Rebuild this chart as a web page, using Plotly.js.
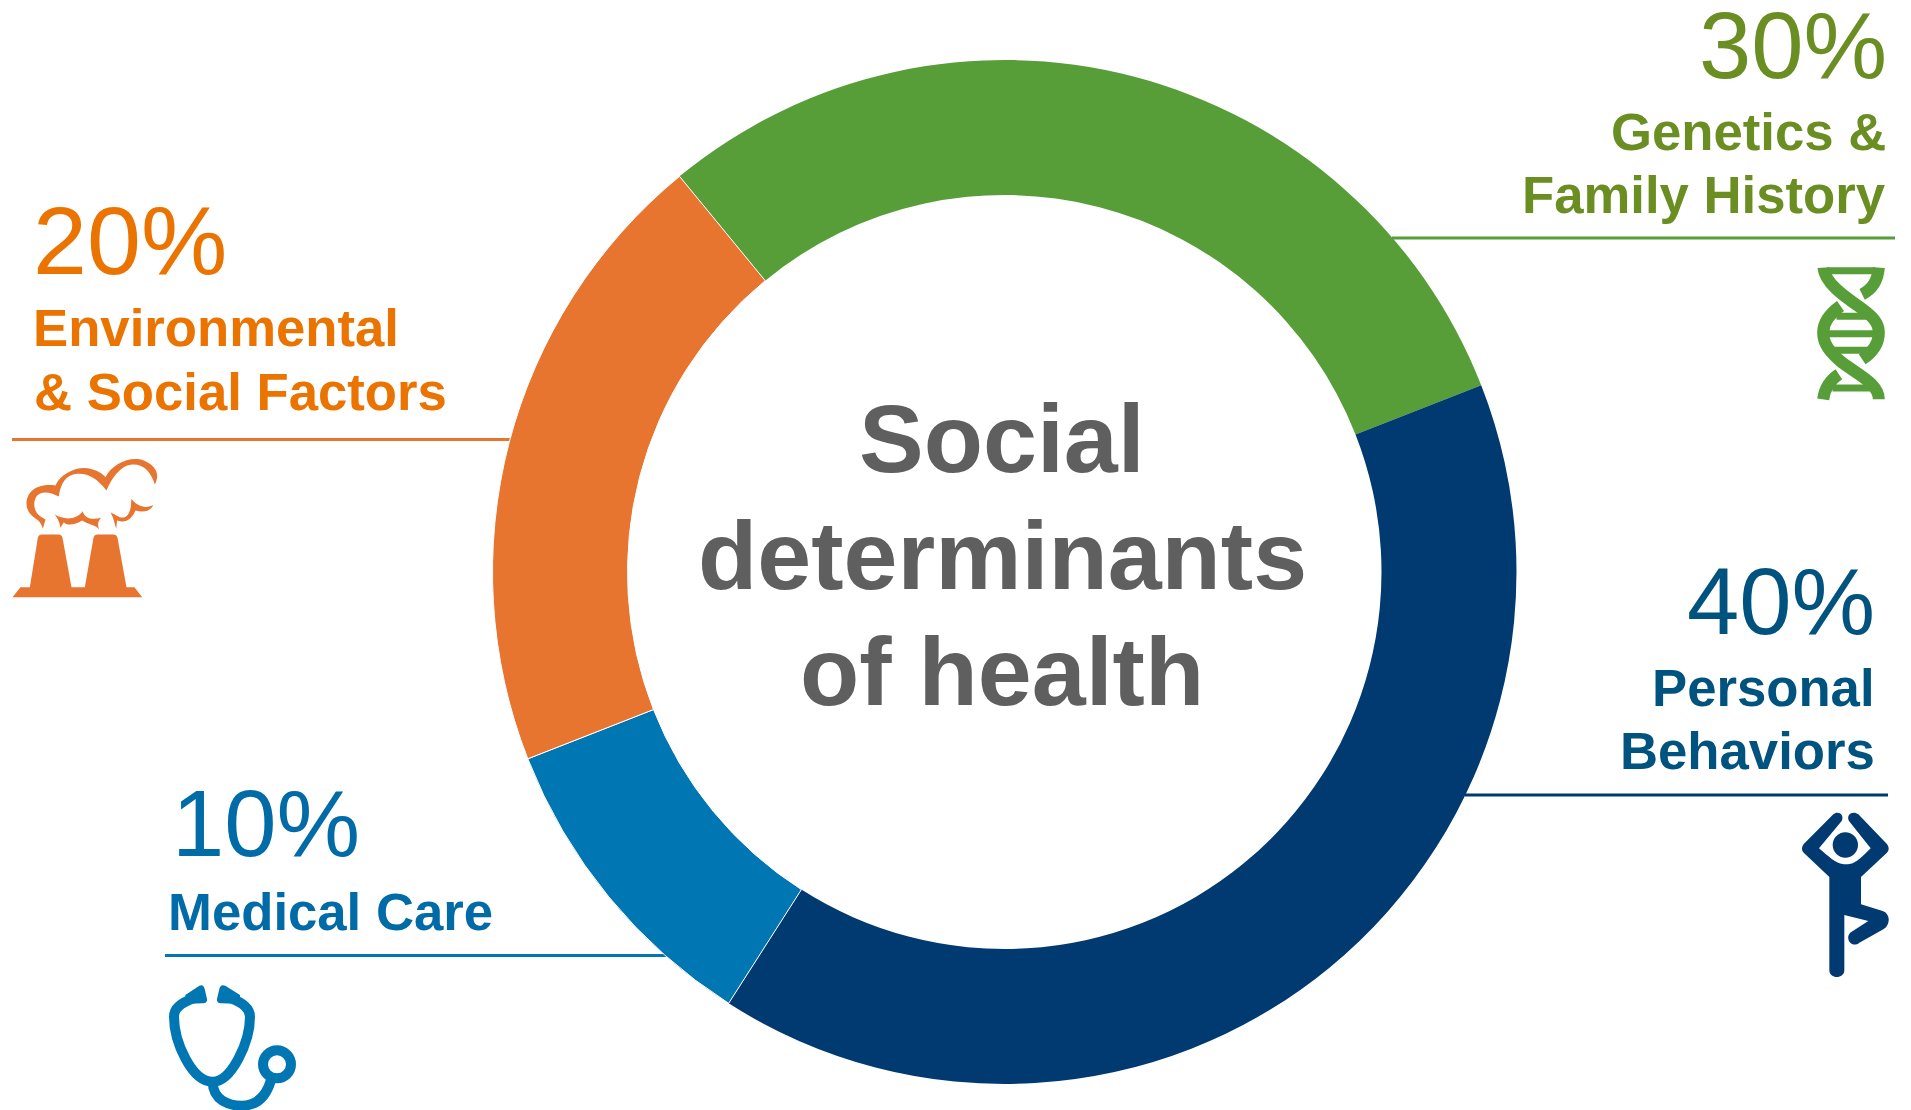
<!DOCTYPE html>
<html>
<head>
<meta charset="utf-8">
<script src="https://cdn.plot.ly/plotly-3.0.1.min.js"></script>
<style>html,body{margin:0;padding:0;background:#fff;overflow:hidden}#chart{width:1911px;height:1110px}</style>
</head>
<body>
<div id="chart"></div>
<script>
// Ring segments, clockwise from the upper left
const categories = ['Genetics & Family History', 'Personal Behaviors', 'Medical Care', 'Environmental & Social Factors'];
const shares = [30, 40, 10, 20];
const sliceColors = ['#579D38', '#003A70', '#0077B3', '#E77530'];
const sliceEdges = [0, 0, 1, 1];
const textColors = ['#6B8E23', '#00527F', '#006BA6', '#EB7300'];

const centerLines = ['Social', 'determinants', 'of health'];
const centerBaselines = [473, 590, 706];

const W = 1911, H = 1110;
const FONT = '"Liberation Sans", Arial, sans-serif';

// Pixel positions on the page converted to paper fractions
const px = x => x / W;
const py = y => 1 - y / H;

// Ring geometry in page pixels
const cx = 1004.5, cy = 572, outerR = 512, innerR = 377;

// Text line anchored at a baseline
function label(text, x, baseline, size, bold, color, anchor) {
  const top = baseline - 0.905 * size - 1;
  return {
    text: bold ? '<b>' + text + '</b>' : text,
    xref: 'paper', yref: 'paper',
    x: px(x), y: py(top),
    xanchor: anchor, yanchor: 'top',
    showarrow: false, borderpad: 0, borderwidth: 0,
    font: { family: FONT, size: size, color: color }
  };
}

const annotations = [
  // Genetics
  label(shares[0] + '%', 1887, 79, 94, false, textColors[0], 'right'),
  label('Genetics &amp;', 1886, 151, 52.7, true, textColors[0], 'right'),
  label('Family History', 1886, 214, 52.7, true, textColors[0], 'right'),
  // Behaviors
  label(shares[1] + '%', 1875, 635, 94, false, textColors[1], 'right'),
  label('Personal', 1875, 707, 52.7, true, textColors[1], 'right'),
  label('Behaviors', 1875, 770, 52.7, true, textColors[1], 'right'),
  // Medical care
  label(shares[2] + '%', 172, 857, 94, false, textColors[2], 'left'),
  label('Medical Care', 168, 931, 52.7, true, textColors[2], 'left'),
  // Environment
  label(shares[3] + '%', 33, 275, 97, false, textColors[3], 'left'),
  label('Environmental', 33, 347, 52.7, true, textColors[3], 'left'),
  label('&amp; Social Factors', 34, 410.5, 52.7, true, textColors[3], 'left')
];
centerLines.forEach((t, i) => annotations.push(label(t, cx - 2.5, centerBaselines[i], 97, true, '#5F5F5F', 'center')));

// Leader rules under each caption
function rule(x0, x1, y, color) {
  return { type: 'line', xref: 'paper', yref: 'paper', x0: px(x0), x1: px(x1), y0: py(y), y1: py(y),
           line: { color: color, width: 3 }, layer: 'below' };
}

// Icon outlines are written in local units; each icon has an origin and a scale on the page
function place(d, ox, oy, k) {
  return d.replace(/(-?[\d.]+),(-?[\d.]+)/g, (m, a, b) =>
    px(ox + a * k).toFixed(6) + ',' + py(oy + b * k).toFixed(6));
}
function filled(d, ox, oy, k, color) {
  return { type: 'path', xref: 'paper', yref: 'paper', path: place(d, ox, oy, k),
           fillcolor: color, line: { width: 0 }, layer: 'above' };
}
function stroked(d, ox, oy, k, color, width) {
  return { type: 'path', xref: 'paper', yref: 'paper', path: place(d, ox, oy, k),
           fillcolor: 'rgba(0,0,0,0)', line: { color: color, width: width }, layer: 'above' };
}
function disc(x, y, r) {
  const c = r * 0.5523;
  return `M ${x - r},${y} C ${x - r},${y - c} ${x - c},${y - r} ${x},${y - r} ` +
         `C ${x + c},${y - r} ${x + r},${y - c} ${x + r},${y} ` +
         `C ${x + r},${y + c} ${x + c},${y + r} ${x},${y + r} ` +
         `C ${x - c},${y + r} ${x - r},${y + c} ${x - r},${y} Z`;
}

const k = 1 / 3;

// Factory with smoke
const factoryPaths = [
  'M 36,470 L 60,440 L 88,440 L 112,292 C 114,285 118,282 124,282 L 174,282 C 180,282 184,285 186,292 L 213,440 L 253,440 L 279,292 C 281,285 285,282 291,282 L 339,282 C 345,282 349,285 351,292 L 378,440 L 402,440 L 425,470 Z',
  'M 127,265 C 124,250 115,240 105,234 C 88,222 78,208 78,190 C 78,150 115,128 165,135 C 180,100 230,75 270,85 C 295,92 305,100 315,110 C 335,70 390,45 430,60 C 465,75 480,100 463,132 C 452,95 430,70 395,72 C 360,75 335,110 318,150 C 290,115 265,98 230,100 C 195,103 180,130 175,168 C 150,155 125,150 110,165 C 95,185 100,215 120,228 L 135,237 Z',
  'M 163,222 C 190,238 225,240 247,212 C 252,235 275,238 302,232 C 290,245 292,255 296,267 C 285,252 262,252 245,240 C 225,252 200,258 190,245 L 180,262 C 178,245 170,232 163,222 Z',
  'M 330,215 C 350,225 365,240 380,225 C 395,205 390,190 393,175 C 410,200 440,205 458,193 C 450,215 425,215 405,210 C 395,235 375,250 350,240 L 347,265 C 342,245 338,230 330,215 Z'
];

// Double helix
const helixStrands = [
  'M 39,20 C 42,65 100,105 150,140 C 185,165 205,185 205,215 C 205,250 185,275 155,295',
  'M 205,20 C 202,60 185,85 155,100',
  'M 90,135 C 55,160 38,185 38,215 C 38,250 60,275 95,305 C 150,345 205,370 205,415',
  'M 85,340 C 55,360 42,385 38,415'
];
const helixRungs = ['M 50,29 L 195,29', 'M 78,166 L 178,166', 'M 50,218 L 195,218', 'M 66,268 L 178,268', 'M 66,381 L 178,381'];

// Figure in a tree pose
const figurePaths = [
  'M 100,40 C 112,28 135,40 125,60 L 57,142 C 100,180 115,190 136,190 C 160,190 170,185 212,142 L 147,60 C 137,40 160,28 175,40 L 260,128 C 268,138 268,148 260,156 L 183,228 L 183,310 L 248,330 C 272,338 272,372 250,385 L 178,425 C 155,445 130,408 155,392 L 205,360 L 133,342 L 133,508 C 133,535 88,535 88,508 L 88,228 L 12,156 C 4,148 4,138 12,128 Z',
  disc(136, 132, 38)
];

// Stethoscope
const stethTubes = [
  'M 105,68 C 60,85 42,100 42,125 C 42,200 95,320 158,320 C 215,320 270,200 270,125 C 270,100 250,85 210,68',
  'M 158,322 C 160,375 205,392 245,392 C 295,392 320,360 333,315',
  disc(351, 268, 42)
];
const stethTips = [
  'M 76,60 L 118,32 C 126,28 132,32 134,42 L 141,72 C 142,82 136,85 128,85 L 92,86 C 84,86 80,82 76,72 Z',
  'M 240,60 L 196,32 C 186,28 180,32 178,42 L 171,72 C 170,82 176,85 184,85 L 224,86 C 232,86 236,82 240,72 Z'
];

const shapes = [
  rule(1392, 1895, 238, sliceColors[0]),
  rule(1465, 1888, 795, sliceColors[1]),
  rule(165, 668, 955.5, sliceColors[2]),
  rule(12, 514, 439.5, sliceColors[3]),
  ...factoryPaths.map(d => filled(d, 0.5, 440.5, k, sliceColors[3])),
  ...helixStrands.map(d => stroked(d, 1810.5, 261, k, sliceColors[0], 12)),
  ...helixRungs.map(d => stroked(d, 1810.5, 261, k, sliceColors[0], 7)),
  ...figurePaths.map(d => filled(d, 1800, 801, k, sliceColors[1])),
  ...stethTubes.map(d => stroked(d, 160, 975, k, sliceColors[2], 10)),
  ...stethTips.map(d => filled(d, 160, 975, k, sliceColors[2]))
];

const ring = {
  type: 'pie',
  labels: categories,
  values: shares,
  sort: false,
  direction: 'clockwise',
  rotation: -39.4,
  hole: innerR / outerR,
  textinfo: 'none',
  hoverinfo: 'label+percent',
  showlegend: false,
  marker: { colors: sliceColors, line: { color: '#FFFFFF', width: sliceEdges } },
  domain: {
    x: [px(cx - outerR), px(cx + outerR)],
    y: [py(cy + outerR), py(cy - outerR)]
  }
};

Plotly.newPlot('chart', [ring], {
  width: W, height: H,
  margin: { l: 0, r: 0, t: 0, b: 0 },
  paper_bgcolor: '#FFFFFF',
  showlegend: false,
  annotations: annotations,
  shapes: shapes
}, { displayModeBar: false, staticPlot: true });
</script>
</body>
</html>
